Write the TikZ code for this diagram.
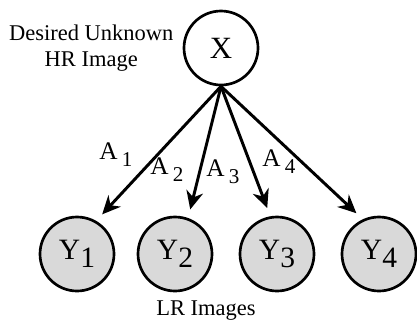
\documentclass[tikz,border=0pt]{standalone}
\usepackage{fontspec}
\setmainfont{Liberation Serif}
\usepackage{tikz}
\usetikzlibrary{arrows.meta, positioning}
\definecolor{lrgray}{RGB}{217,217,217}
\newcommand{\ysub}[2]{#1\kern0.01em\raisebox{-0.28em}{#2}}
\newcommand{\asub}[1]{A\,\raisebox{-0.28em}{\fontsize{15}{15}\selectfont #1}}

\begin{document}
\begin{tikzpicture}[
  font=\fontsize{16}{19}\selectfont,
  hr/.style={circle, draw=black, line width=1.9pt, minimum size=1.85cm,
             inner sep=0pt, fill=white, font=\fontsize{22}{26}\selectfont},
  lr/.style={hr, fill=lrgray, font=\fontsize{21}{24}\selectfont},
  arr/.style={-{Stealth[length=13pt, width=12pt]}, line width=2.1pt, shorten >=0.22cm},
  lbl/.style={inner sep=1pt, font=\fontsize{18}{20}\selectfont}
]
\useasboundingbox (0,0) rectangle (10.425,-8.025);
%% nodes (HR image on top, LR images in a row)
\node[hr] (x)  at (5.525,-1.2)  {X};
\node[lr] (y1) at (1.925,-6.35) {\ysub{Y}{1}};
\node[lr] (y2) at (4.375,-6.35) {\ysub{Y}{2}};
\node[lr] (y3) at (6.925,-6.35) {\ysub{Y}{3}};
\node[lr] (y4) at (9.475,-6.35) {\ysub{Y}{4}};
%% captions
\node[align=center] (hrtxt) at (2.28,-1.2) {Desired Unknown\\HR Image};
\node (lrtxt) at (5.15,-7.76) {LR Images};
%% arrows
\draw[arr] (x.south) -- (y1.60);
\draw[arr] (x.south) -- (y2.70);
\draw[arr] (x.south) -- (y3.100);
\draw[arr] (x.south) -- (y4.115);
%% operator labels
\node[lbl] (a1) at (2.9,-3.875)  {\asub{1}};
\node[lbl] (a2) at (4.175,-4.25) {\asub{2}};
\node[lbl] (a3) at (5.575,-4.3)  {\asub{3}};
\node[lbl] (a4) at (6.975,-4.05) {\asub{4}};
\end{tikzpicture}
\end{document}
